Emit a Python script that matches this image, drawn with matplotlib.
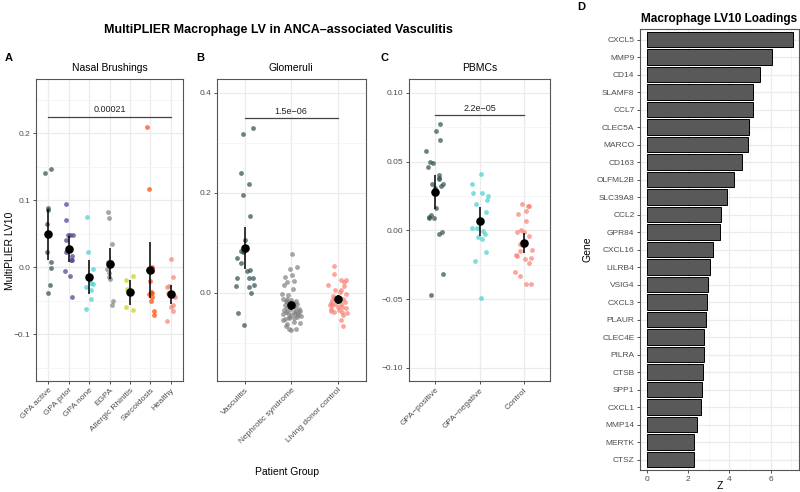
import matplotlib.pyplot as plt
import numpy as np

plt.rcParams['font.family'] = ['Liberation Sans', 'DejaVu Sans']

# ---- Panel A: nasal brushings ----
nasal_groups = ['GPA active', 'GPA prior', 'GPA none', 'EGPA', 'Allergic Rhinitis', 'Sarcoidosis', 'Healthy']
nasal_gpa_active = [0.140, 0.146, 0.085, 0.089, 0.064, 0.023, 0.007, -0.001, -0.027, -0.038]
nasal_gpa_prior = [0.094, 0.071, 0.041, 0.048, 0.048, 0.048, 0.023, 0.016, 0.010, 0.010, -0.005, -0.013, -0.045]
nasal_gpa_none = [0.075, 0.022, -0.002, -0.030, -0.023, -0.025, -0.034, -0.047, -0.062]
nasal_egpa = [0.082, 0.074, 0.034, 0.008, 0.008, 0.006, -0.002, -0.009, -0.015, -0.018, -0.050, -0.057]
nasal_rhinitis = [-0.019, -0.013, -0.033, -0.060, -0.064]
nasal_sarcoid = [0.210, 0.116, 0.000, -0.004, -0.005, -0.020, -0.037, -0.040, -0.039, -0.045, -0.051, -0.066, -0.072]
nasal_healthy = [0.012, -0.014, -0.029, -0.028, -0.039, -0.043, -0.045, -0.057, -0.060, -0.065, -0.080]
nasal_jitter = [
    [-0.16, 0.13, -0.03, 0.0, -0.05, -0.05, 0.13, 0.13, 0.07, 0.0],
    [-0.13, -0.13, -0.15, -0.03, 0.08, 0.2, -0.13, 0.15, 0.1, 0.18, -0.16, 0.05, 0.15],
    [-0.11, -0.05, 0.2, -0.13, 0.08, 0.2, 0.07, 0.1, -0.16],
    [-0.1, -0.03, 0.1, -0.08, 0.05, 0.0, -0.11, -0.02, -0.02, 0.03, 0.15, 0.11],
    [-0.18, 0.16, -0.16, -0.18, 0.13],
    [-0.15, -0.07, 0.07, -0.1, 0.07, 0.0, 0.02, -0.08, 0.08, 0.08, 0.02, 0.16, 0.16],
    [0.0, 0.1, -0.2, -0.1, -0.16, 0.13, 0.18, 0.1, -0.02, 0.08, -0.18],
]
nasal_p = '0.00021'

# ---- Panel B: glomeruli ----
glom_groups = ['Vasculitis', 'Nephrotic syndrome', 'Living donor control']
glom_vasculitis = [0.317, 0.329, 0.239, 0.218, 0.195, 0.154, 0.105, 0.083, 0.081, 0.083, 0.069, 0.059,
                   0.044, 0.045, 0.030, 0.030, 0.029, 0.014, 0.012, 0.015, -0.001, -0.041, -0.065]
glom_nephrotic = [0.077, 0.051, 0.047, 0.035, 0.032, 0.023, 0.021, 0.015, 0.007, -0.003, -0.004, -0.012,
                  -0.013, -0.014, -0.016, -0.017, -0.019, -0.020, -0.022, -0.024, -0.025, -0.027, -0.029,
                  -0.031, -0.032, -0.033, -0.035, -0.036, -0.037, -0.038, -0.039, -0.040, -0.041, -0.042,
                  -0.043, -0.044, -0.045, -0.047, -0.048, -0.049, -0.050, -0.051, -0.053, -0.055, -0.058,
                  -0.061, -0.063, -0.067, -0.072, -0.073, -0.074]
glom_donor = [0.053, 0.038, 0.026, 0.025, 0.021, 0.016, 0.013, 0.006, 0.005, 0.001, -0.002, -0.006,
              -0.010, -0.012, -0.015, -0.017, -0.019, -0.020, -0.022, -0.022, -0.025, -0.025, -0.029,
              -0.029, -0.031, -0.033, -0.035, -0.037, -0.039, -0.039, -0.041, -0.045, -0.055, -0.067]
glom_jitter = [
    [-0.04, 0.18, -0.07, 0.1, -0.03, 0.11, 0.0, -0.08, -0.04, -0.02, -0.17, -0.07, 0.06, 0.12, -0.16,
     0.09, 0.17, -0.18, 0.1, 0.2, 0.13, -0.15, -0.02],
    [0.02, 0.12, -0.02, 0.01, -0.13, 0.06, -0.08, -0.15, 0.04, -0.19, -0.07, -0.18, -0.08, 0.0, 0.10,
     -0.12, -0.10, 0.06, 0.13, -0.04, -0.14, 0.03, 0.08, -0.09, 0.16, -0.02, -0.16, 0.11, 0.19, -0.11,
     0.05, -0.06, 0.14, -0.17, 0.09, 0.15, -0.01, 0.20, -0.05, 0.12, -0.04, 0.07, -0.13, -0.18, 0.06,
     0.18, -0.09, -0.12, 0.10, -0.04, 0.0],
    [-0.08, -0.09, 0.07, 0.18, 0.13, -0.2, 0.13, -0.05, 0.07, 0.04, 0.18, -0.1, -0.08, 0.12, -0.12, 0.0,
     0.15, -0.15, -0.06, 0.06, -0.17, -0.12, 0.0, 0.09, 0.17, -0.14, 0.03, -0.15, -0.09, 0.08, 0.19,
     0.11, 0.06, 0.12],
]
glom_p = '1.5e\u221206'

# ---- Panel C: PBMCs ----
pbmc_groups = ['GPA\u2212positive', 'GPA\u2212negative', 'Control']
pbmc_pos = [0.077, 0.072, 0.066, 0.058, 0.050, 0.049, 0.046, 0.040, 0.038, 0.037, 0.034, 0.034, 0.032,
            0.031, 0.016, 0.011, 0.010, 0.009, 0.009, -0.001, -0.003, -0.032, -0.047]
pbmc_neg = [0.041, 0.034, 0.027, 0.027, 0.025, 0.019, 0.022, 0.013, 0.002, 0.002, -0.0005, -0.003,
            -0.005, -0.006, -0.016, -0.022, -0.049]
pbmc_ctrl = [0.019, 0.018, 0.018, 0.012, 0.014, 0.007, 0.0, -0.0015, -0.001, -0.004, -0.010, -0.011,
             -0.014, -0.015, -0.018, -0.019, -0.021, -0.020, -0.024, -0.030, -0.033, -0.039, -0.039]
pbmc_jitter = [
    [0.11, 0.02, 0.1, -0.21, -0.12, -0.06, -0.17, 0.08, 0.09, 0.08, -0.09, 0.17, 0.12, 0.0, 0.02, -0.11,
     -0.14, -0.03, -0.14, 0.14, 0.07, 0.17, -0.11],
    [0.03, -0.17, -0.14, 0.06, 0.19, -0.08, 0.16, 0.14, -0.17, -0.06, 0.08, 0.13, -0.03, 0.05, 0.14,
     -0.1, 0.04],
    [-0.03, 0.13, 0.11, -0.12, 0.05, 0.05, -0.07, -0.14, 0.0, 0.12, -0.09, -0.04, 0.2, -0.08, -0.17,
     -0.14, 0.03, 0.16, 0.12, -0.2, -0.08, 0.05, 0.16],
]
pbmc_p = '2.2e\u221205'

# ---- Panel D: loadings ----
genes = ['CXCL5', 'MMP9', 'CD14', 'SLAMF8', 'CCL7', 'CLEC5A', 'MARCO', 'CD163', 'OLFML2B', 'SLC39A8',
         'CCL2', 'GPR84', 'CXCL16', 'LILRB4', 'VSIG4', 'CXCL3', 'PLAUR', 'CLEC4E', 'PILRA', 'CTSB',
         'SPP1', 'CXCL1', 'MMP14', 'MERTK', 'CTSZ']
z_vals = [7.07, 6.07, 5.50, 5.15, 5.13, 4.95, 4.92, 4.60, 4.21, 3.87, 3.59, 3.53, 3.19, 3.07, 2.98,
          2.90, 2.85, 2.78, 2.77, 2.70, 2.65, 2.64, 2.41, 2.30, 2.27]

c_act = '#2F4F4F'
c_prior = '#483D8B'
c_none = '#48D1CC'
c_gray = '#808080'
c_rhin = '#CDCD20'
c_sarc = '#FF4500'
c_ctrl = '#FA8072'

tick_col = '#4D4D4D'
frame_col = '#555555'


def style_axes(ax):
    ax.set_facecolor('white')
    for s in ax.spines.values():
        s.set_color(frame_col)
        s.set_linewidth(0.8)
    ax.grid(True, which='major', color='#EBEBEB', lw=0.9)
    ax.grid(True, which='minor', color='#F4F4F4', lw=0.6)
    ax.set_axisbelow(True)
    ax.tick_params(which='major', length=2.5, width=0.6, color='#333333', labelsize=6,
                   labelcolor=tick_col, pad=1.5)
    ax.tick_params(which='minor', length=0)


def dot_panel(ax, groups, series, jitter, colors, p_text, p_y, ylim, yticks, yminor, title):
    for i, (vals, jit, col) in enumerate(zip(series, jitter, colors)):
        v = np.array(vals)
        ax.scatter(i + np.array(jit), v, s=12, color=col, alpha=0.7, lw=0, zorder=2)
        m = v.mean()
        ci = 1.96 * v.std() / np.sqrt(len(v))
        ax.vlines(i, m - ci, m + ci, color='black', lw=1.1, zorder=3)
        ax.scatter([i], [m], s=38, color='black', lw=0, zorder=4)
    ax.plot([0, len(groups) - 1], [p_y, p_y], color='#444444', lw=0.9)
    rng = ylim[1] - ylim[0]
    ax.text((len(groups) - 1) / 2, p_y + rng * 0.008, p_text, ha='center', va='bottom', fontsize=6.5,
            color='#222222')
    ax.set_xlim(-0.6, len(groups) - 0.4)
    ax.set_ylim(*ylim)
    ax.set_xticks(range(len(groups)))
    ax.set_xticklabels(groups, rotation=45, ha='right', va='top', rotation_mode='anchor')
    ax.set_yticks(yticks)
    ax.set_yticks(yminor, minor=True)
    style_axes(ax)
    ax.set_title(title, fontsize=7.5, pad=6)


fig = plt.figure(figsize=(8, 4.92), dpi=100)

axA = fig.add_axes([0.045, 0.2256, 0.184, 0.6138])
axB = fig.add_axes([0.2709, 0.2256, 0.18625, 0.6138])
axC = fig.add_axes([0.5113, 0.2256, 0.17625, 0.6138])
axD = fig.add_axes([0.8, 0.0447, 0.19875, 0.8963])

dot_panel(axA, nasal_groups,
          [nasal_gpa_active, nasal_gpa_prior, nasal_gpa_none, nasal_egpa, nasal_rhinitis, nasal_sarcoid,
           nasal_healthy],
          nasal_jitter, [c_act, c_prior, c_none, c_gray, c_rhin, c_sarc, c_ctrl],
          nasal_p, 0.2248, (-0.17, 0.281), [-0.1, 0.0, 0.1, 0.2], [-0.15, -0.05, 0.05, 0.15, 0.25],
          'Nasal Brushings')
axA.set_yticklabels(['\u22120.1', '0.0', '0.1', '0.2'])
axA.set_ylabel('MultiPLIER LV10', fontsize=7.5)
axA.yaxis.set_label_coords(-0.145, 0.43)

dot_panel(axB, glom_groups, [glom_vasculitis, glom_nephrotic, glom_donor], glom_jitter,
          [c_act, c_gray, c_ctrl], glom_p, 0.349, (-0.177, 0.427), [0.0, 0.2, 0.4], [-0.1, 0.1, 0.3],
          'Glomeruli')
axB.set_yticklabels(['0.0', '0.2', '0.4'])

dot_panel(axC, pbmc_groups, [pbmc_pos, pbmc_neg, pbmc_ctrl], pbmc_jitter,
          [c_act, c_none, c_ctrl], pbmc_p, 0.0837, (-0.1095, 0.110), [-0.10, -0.05, 0.0, 0.05, 0.10],
          [-0.075, -0.025, 0.025, 0.075], 'PBMCs')
axC.set_yticklabels(['\u22120.10', '\u22120.05', '0.00', '0.05', '0.10'])

# panel D bars
ypos = np.arange(len(genes))[::-1]
axD.barh(ypos, z_vals, height=0.9, color='#595959', edgecolor='black', lw=0.7, zorder=2)
axD.set_yticks(ypos)
axD.set_yticklabels(genes)
axD.set_ylim(-0.6, len(genes) - 0.4)
axD.set_xlim(-0.34, 7.38)
axD.set_xticks([0, 2, 4, 6])
axD.set_xticks([1, 3, 5, 7], minor=True)
style_axes(axD)
axD.set_xlabel('Z', fontsize=7.5, labelpad=0)
axD.xaxis.set_label_coords(0.5, -0.024)
axD.set_ylabel('Gene', fontsize=7.5, labelpad=3)
axD.set_title('Macrophage LV10 Loadings', fontsize=8.5, fontweight='bold', pad=5)

# figure text
fig.text(0.348, 0.939, 'MultiPLIER Macrophage LV in ANCA\u2013associated Vasculitis', ha='center', va='center',
         fontsize=9, fontweight='bold')
fig.text(0.359, 0.04, 'Patient Group', ha='center', va='center', fontsize=7.5)
for lab, xx, yy in [('A', 0.006, 0.882), ('B', 0.245, 0.882), ('C', 0.476, 0.882), ('D', 0.721, 0.985)]:
    fig.text(xx, yy, lab, ha='left', va='center', fontsize=8, fontweight='bold')

fig.savefig('out.png', dpi=100)
